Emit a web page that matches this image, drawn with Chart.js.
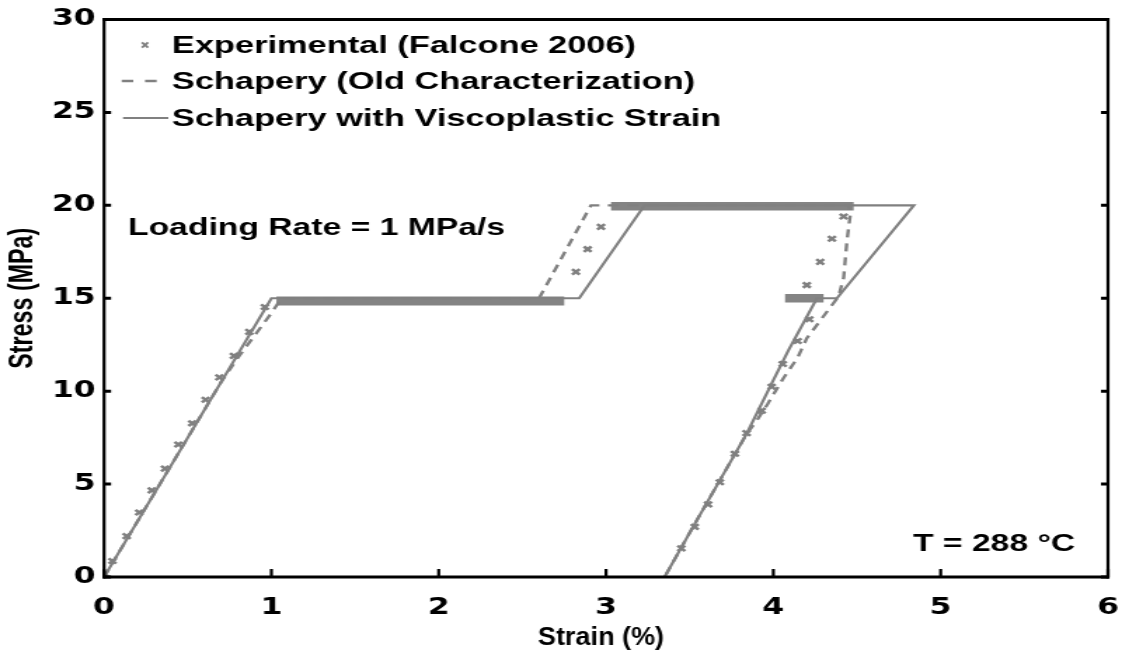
<!DOCTYPE html>
<html><head><meta charset="utf-8">
<script src="https://cdn.jsdelivr.net/npm/chart.js@4/dist/chart.umd.min.js"></script>
<style>
html,body{margin:0;padding:0;background:#fff;overflow:hidden;}
#wrap{width:800px;height:655px;transform:scaleX(1.4025);transform-origin:0 0;}
</style></head><body>
<div id="wrap"><canvas id="c" width="800" height="655"></canvas></div>
<script>
// ---- data ----
const expStrain = [0, 0.05, 0.135, 0.21, 0.285, 0.364, 0.444, 0.527, 0.607, 0.689, 0.776, 0.868, 0.961,
  2.82, 2.89, 2.97, 4.42, 4.35, 4.28, 4.20,
  4.215, 4.145, 4.056, 3.99, 3.93, 3.84, 3.77, 3.68, 3.61, 3.53, 3.45];
const expStress = [0, 0.86, 2.2, 3.47, 4.66, 5.83, 7.13, 8.27, 9.54, 10.74, 11.9, 13.19, 14.53,
  16.42, 17.64, 18.84, 19.4, 18.2, 16.96, 15.71,
  13.87, 12.7, 11.46, 10.24, 8.95, 7.74, 6.63, 5.1, 3.91, 2.7, 1.54];
// dense experimental creep/hold bands (start strain, end strain, stress)
const holdStart  = [1.03, 3.03, 4.07];
const holdEnd    = [2.75, 4.48, 4.30];
const holdStress = [14.85, 19.95, 15.0];
const oldStrain = [0, 0.70, 0.80, 0.90, 1.00, 1.06, 2.60, 2.91, 4.45, 4.46, 4.44, 4.42, 4.39, 4.20, 4.145, 4.06, 3.965, 3.90, 3.84, 3.68, 3.52, 3.35];
const oldStress = [0, 10.5, 11.8, 13.0, 14.2, 15.0, 15.0, 20.0, 20.0, 19.5, 18.1, 16.1, 15.1, 12.85, 11.8, 10.7, 9.3, 8.4, 7.7, 5.2, 2.7, 0];
const vpStrain = [0, 1.00, 2.84, 3.23, 4.84, 4.38, 4.26, 4.09, 4.00, 3.84, 3.68, 3.52, 3.35];
const vpStress = [0, 15.0, 15.0, 20.0, 20.0, 15.0, 15.0, 12.2, 10.6, 7.7, 5.2, 2.7, 0];
const xTickLabels = ['0','1','2','3','4','5','6'];
const yTickLabels = ['0','5','10','15','20','25','30'];
const seriesNames = ['Experimental (Falcone 2006)', 'Schapery (Old Characterization)', 'Schapery with Viscoplastic Strain'];
const xTitle = 'Strain (%)';
const yTitle = 'Stress (MPa)';
const noteRate = 'Loading Rate = 1 MPa/s';
const noteTemp = 'T = 288 °C';

// ---- build ----
const GRAY = '#808080';
const SANS = '"Liberation Sans", Arial, sans-serif';
const pts = (xs, ys) => xs.map((x, i) => ({x, y: ys[i]}));
function fitSize(text, family, target) {
  const c = document.createElement('canvas').getContext('2d');
  c.font = 'bold 100px ' + family;
  return 100 * target / c.measureText(text).width;
}
const yTitleSize = fitSize(yTitle, SANS, 141);

const datasets = [
  {label: seriesNames[0], data: pts(expStrain, expStress), showLine: false,
   pointStyle: 'crossRot', pointRadius: 3.8, pointBorderWidth: 2.5, borderColor: GRAY, backgroundColor: GRAY}
];
holdStart.forEach((s, i) => datasets.push({
  label: 'hold' + i, data: [{x: s, y: holdStress[i]}, {x: holdEnd[i], y: holdStress[i]}],
  showLine: true, borderColor: 'rgba(128,128,128,0.97)', borderWidth: i === 0 ? 9 : 8.5, pointRadius: 0, borderCapStyle: 'butt'
}));
datasets.push({label: seriesNames[1], data: pts(oldStrain, oldStress), showLine: true, borderColor: GRAY,
  borderWidth: 2.4, borderDash: [8, 6], pointRadius: 0, tension: 0});
datasets.push({label: seriesNames[2], data: pts(vpStrain, vpStress), showLine: true, borderColor: GRAY,
  borderWidth: 2.2, pointRadius: 0, tension: 0});

const boxPlugin = {
  id: 'box',
  afterDraw(chart) {
    const {ctx, chartArea: a, scales: {x, y}} = chart;
    ctx.save();
    ctx.strokeStyle = '#000';
    // frame
    ctx.lineWidth = 3;
    ctx.beginPath(); ctx.moveTo(a.left - 1, a.top); ctx.lineTo(a.right + 1, a.top);
    ctx.moveTo(a.left - 1, a.bottom); ctx.lineTo(a.right + 1, a.bottom); ctx.stroke();
    ctx.lineWidth = 2.2;
    ctx.beginPath(); ctx.moveTo(a.left, a.top - 1.5); ctx.lineTo(a.left, a.bottom + 1.5);
    ctx.moveTo(a.right, a.top - 1.5); ctx.lineTo(a.right, a.bottom + 1.5); ctx.stroke();
    // inward ticks
    ctx.lineWidth = 3;
    y.ticks.forEach(t => {
      const py = y.getPixelForValue(t.value);
      ctx.beginPath(); ctx.moveTo(a.left, py); ctx.lineTo(a.left + 5, py);
      ctx.moveTo(a.right, py); ctx.lineTo(a.right - 5, py); ctx.stroke();
    });
    ctx.lineWidth = 2.2;
    x.ticks.forEach(t => {
      const px = x.getPixelForValue(t.value);
      ctx.beginPath(); ctx.moveTo(px, a.bottom); ctx.lineTo(px, a.bottom - 8); ctx.stroke();
    });
    // legend
    ctx.font = 'bold 24.5px ' + SANS;
    ctx.fillStyle = '#000';
    ctx.textBaseline = 'middle';
    ctx.textAlign = 'left';
    const tx = 122.6, rows = [45, 81, 118];
    rows.forEach((ry, i) => ctx.fillText(seriesNames[i], tx, ry + 1));
    ctx.strokeStyle = GRAY;
    ctx.lineWidth = 1.8;
    ctx.beginPath(); ctx.moveTo(103.4 - 2.2, rows[0] - 2.6); ctx.lineTo(103.4 + 2.2, rows[0] + 2.6);
    ctx.moveTo(103.4 + 2.2, rows[0] - 2.6); ctx.lineTo(103.4 - 2.2, rows[0] + 2.6); ctx.stroke();
    ctx.lineWidth = 2.4;
    ctx.beginPath(); ctx.moveTo(86.8, rows[1]); ctx.lineTo(95, rows[1]);
    ctx.moveTo(103.4, rows[1]); ctx.lineTo(111.7, rows[1]); ctx.stroke();
    ctx.lineWidth = 2.2;
    ctx.beginPath(); ctx.moveTo(87.7, rows[2]); ctx.lineTo(120, rows[2]); ctx.stroke();
    // notes
    ctx.font = 'bold 24px ' + SANS;
    ctx.fillStyle = '#000';
    ctx.fillText(noteRate, 91.3, 228);
    ctx.fillText(noteTemp, 651, 544);
    // x axis title (condensed, as in the reference)
    ctx.save();
    ctx.translate(428.5, 638);
    ctx.scale(0.74, 1);
    ctx.font = 'bold 26px ' + SANS;
    ctx.textAlign = 'center';
    ctx.fillText(xTitle, 0, 0);
    ctx.restore();
    ctx.restore();
  }
};

new Chart(document.getElementById('c'), {
  type: 'scatter',
  data: {datasets},
  options: {
    responsive: false,
    animation: false,
    events: [],
    layout: {padding: {top: 17, right: 10, left: 0, bottom: 0}},
    plugins: {legend: {display: false}, tooltip: {enabled: false}},
    scales: {
      x: {
        type: 'linear', min: 0, max: 6,
        afterFit(s) { s.height = 78; },
        afterBuildTicks(s) { s.ticks = xTickLabels.map(v => ({value: +v})); },
        ticks: {stepSize: 1, padding: 2, color: '#000',
          font: {family: '"DejaVu Sans", sans-serif', weight: 'bold', size: 22.5},
          callback: (v, i) => xTickLabels[i]},
        grid: {display: true, drawOnChartArea: false, drawTicks: true, tickLength: 16, tickColor: 'rgba(0,0,0,0)'},
        border: {display: false},
        title: {display: false, text: xTitle}
      },
      y: {
        type: 'linear', min: 0, max: 30,
        afterFit(s) { s.width = 74.2; },
        afterBuildTicks(s) { s.ticks = yTickLabels.map(v => ({value: +v})); },
        ticks: {stepSize: 5, padding: 6, color: '#000',
          font: {family: '"DejaVu Sans", sans-serif', weight: 'bold', size: 22.5},
          callback: (v, i) => yTickLabels[i]},
        grid: {display: false, drawTicks: false},
        border: {display: false},
        title: {display: true, text: yTitle, color: '#000', padding: {top: 3, bottom: 0},
          font: {family: SANS, weight: 'bold', size: yTitleSize}}
      }
    }
  },
  plugins: [boxPlugin]
});
</script>
</body></html>
